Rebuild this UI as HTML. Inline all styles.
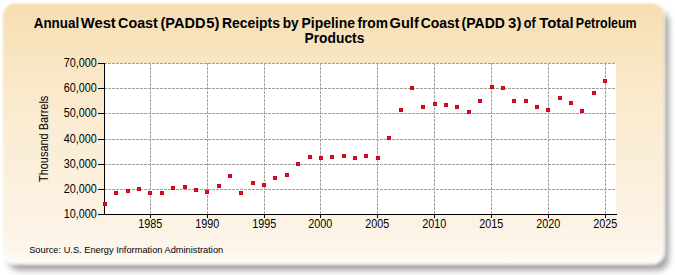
<!DOCTYPE html>
<html><head><meta charset="utf-8"><style>
html,body{margin:0;padding:0;background:#fff;width:675px;height:275px;overflow:hidden}
svg{position:absolute;left:0;top:0}
text{font-family:"Liberation Sans",sans-serif}
</style></head><body>
<svg width="675" height="275" viewBox="0 0 675 275">
<defs>
<linearGradient id="bg" x1="0" y1="0" x2="0" y2="1">
<stop offset='0' stop-color='#f6deb2'/><stop offset='0.45' stop-color='#fbecd2'/><stop offset='0.94' stop-color='#fdf5ea'/><stop offset='1' stop-color='#fffdf9'/>
</linearGradient>
<filter id="sh" x="-5%" y="-5%" width="115%" height="115%">
<feGaussianBlur in="SourceAlpha" stdDeviation="3.2 3.4"/>
<feOffset dx="5" dy="7"/>
<feComponentTransfer result="sd"><feFuncA type="linear" slope="0.36"/></feComponentTransfer>
<feGaussianBlur in="SourceGraphic" stdDeviation="0.9" result="bb"/>
<feMerge><feMergeNode in="sd"/><feMergeNode in="bb"/></feMerge>
</filter>
</defs>
<rect x="3" y="3.5" width="661" height="260" rx="12" ry="12" fill="url(#bg)" filter="url(#sh)"/>
<rect x="105" y="63" width="511" height="151" fill="#ffffff"/>
<g stroke="#a0a0a0" stroke-width="1" stroke-dasharray="3,1" shape-rendering="crispEdges">
<line x1="104" y1="63.5" x2="616" y2="63.5"/><line x1="104" y1="88.5" x2="616" y2="88.5"/><line x1="104" y1="113.5" x2="616" y2="113.5"/><line x1="104" y1="139.5" x2="616" y2="139.5"/><line x1="104" y1="164.5" x2="616" y2="164.5"/><line x1="104" y1="189.5" x2="616" y2="189.5"/>
</g>
<g stroke="#a0a0a0" stroke-width="1" stroke-dasharray="3,1" stroke-dashoffset="0" shape-rendering="crispEdges">
<line x1="150.5" y1="63" x2="150.5" y2="214"/><line x1="207.5" y1="63" x2="207.5" y2="214"/><line x1="264.5" y1="63" x2="264.5" y2="214"/><line x1="320.5" y1="63" x2="320.5" y2="214"/><line x1="377.5" y1="63" x2="377.5" y2="214"/><line x1="434.5" y1="63" x2="434.5" y2="214"/><line x1="491.5" y1="63" x2="491.5" y2="214"/><line x1="548.5" y1="63" x2="548.5" y2="214"/><line x1="605.5" y1="63" x2="605.5" y2="214"/>
</g>
<g stroke="#000" stroke-width="1" shape-rendering="crispEdges">
<line x1="104.5" y1="63" x2="104.5" y2="215"/>
<line x1="98" y1="214.5" x2="617" y2="214.5"/>
<line x1="98" y1="63.5" x2="104" y2="63.5"/><line x1="98" y1="88.5" x2="104" y2="88.5"/><line x1="98" y1="113.5" x2="104" y2="113.5"/><line x1="98" y1="139.5" x2="104" y2="139.5"/><line x1="98" y1="164.5" x2="104" y2="164.5"/><line x1="98" y1="189.5" x2="104" y2="189.5"/><line x1="98" y1="214.5" x2="104" y2="214.5"/><line x1="150.5" y1="215" x2="150.5" y2="218"/><line x1="207.5" y1="215" x2="207.5" y2="218"/><line x1="264.5" y1="215" x2="264.5" y2="218"/><line x1="320.5" y1="215" x2="320.5" y2="218"/><line x1="377.5" y1="215" x2="377.5" y2="218"/><line x1="434.5" y1="215" x2="434.5" y2="218"/><line x1="491.5" y1="215" x2="491.5" y2="218"/><line x1="548.5" y1="215" x2="548.5" y2="218"/><line x1="605.5" y1="215" x2="605.5" y2="218"/>
</g>
<g fill="#ee0a20" stroke="#c4061e" stroke-width="1">
<rect x="103.5" y="202.5" width="3" height="3"/><rect x="114.5" y="191.5" width="3" height="3"/><rect x="126.5" y="189.5" width="3" height="3"/><rect x="137.5" y="187.5" width="3" height="3"/><rect x="148.5" y="191.5" width="3" height="3"/><rect x="160.5" y="191.5" width="3" height="3"/><rect x="171.5" y="186.5" width="3" height="3"/><rect x="183.5" y="185.5" width="3" height="3"/><rect x="194.5" y="188.5" width="3" height="3"/><rect x="205.5" y="190.5" width="3" height="3"/><rect x="217.5" y="184.5" width="3" height="3"/><rect x="228.5" y="174.5" width="3" height="3"/><rect x="239.5" y="191.5" width="3" height="3"/><rect x="251.5" y="181.5" width="3" height="3"/><rect x="262.5" y="183.5" width="3" height="3"/><rect x="273.5" y="176.5" width="3" height="3"/><rect x="285.5" y="173.5" width="3" height="3"/><rect x="296.5" y="162.5" width="3" height="3"/><rect x="308.5" y="155.5" width="3" height="3"/><rect x="319.5" y="156.5" width="3" height="3"/><rect x="330.5" y="155.5" width="3" height="3"/><rect x="342.5" y="154.5" width="3" height="3"/><rect x="353.5" y="156.5" width="3" height="3"/><rect x="364.5" y="154.5" width="3" height="3"/><rect x="376.5" y="156.5" width="3" height="3"/><rect x="387.5" y="136.5" width="3" height="3"/><rect x="399.5" y="108.5" width="3" height="3"/><rect x="410.5" y="86.5" width="3" height="3"/><rect x="421.5" y="105.5" width="3" height="3"/><rect x="433.5" y="102.5" width="3" height="3"/><rect x="444.5" y="103.5" width="3" height="3"/><rect x="455.5" y="105.5" width="3" height="3"/><rect x="467.5" y="110.5" width="3" height="3"/><rect x="478.5" y="99.5" width="3" height="3"/><rect x="490.5" y="85.5" width="3" height="3"/><rect x="501.5" y="86.5" width="3" height="3"/><rect x="512.5" y="99.5" width="3" height="3"/><rect x="524.5" y="99.5" width="3" height="3"/><rect x="535.5" y="105.5" width="3" height="3"/><rect x="546.5" y="108.5" width="3" height="3"/><rect x="558.5" y="96.5" width="3" height="3"/><rect x="569.5" y="101.5" width="3" height="3"/><rect x="580.5" y="109.5" width="3" height="3"/><rect x="592.5" y="91.5" width="3" height="3"/><rect x="603.5" y="79.5" width="3" height="3"/>
</g>
<g font-size="13" fill="#000000">
<text x="96.8" y="67" text-anchor="end" textLength="33" lengthAdjust="spacingAndGlyphs">70,000</text><text x="96.8" y="92" text-anchor="end" textLength="33" lengthAdjust="spacingAndGlyphs">60,000</text><text x="96.8" y="117" text-anchor="end" textLength="33" lengthAdjust="spacingAndGlyphs">50,000</text><text x="96.8" y="143" text-anchor="end" textLength="33" lengthAdjust="spacingAndGlyphs">40,000</text><text x="96.8" y="168" text-anchor="end" textLength="33" lengthAdjust="spacingAndGlyphs">30,000</text><text x="96.8" y="193" text-anchor="end" textLength="33" lengthAdjust="spacingAndGlyphs">20,000</text><text x="96.8" y="218" text-anchor="end" textLength="33" lengthAdjust="spacingAndGlyphs">10,000</text>
</g>
<g font-size="13" fill="#000000">
<text x="150.2" y="228" text-anchor="middle" textLength="24" lengthAdjust="spacingAndGlyphs">1985</text><text x="207.2" y="228" text-anchor="middle" textLength="24" lengthAdjust="spacingAndGlyphs">1990</text><text x="264.2" y="228" text-anchor="middle" textLength="24" lengthAdjust="spacingAndGlyphs">1995</text><text x="320.2" y="228" text-anchor="middle" textLength="24" lengthAdjust="spacingAndGlyphs">2000</text><text x="377.2" y="228" text-anchor="middle" textLength="24" lengthAdjust="spacingAndGlyphs">2005</text><text x="434.2" y="228" text-anchor="middle" textLength="24" lengthAdjust="spacingAndGlyphs">2010</text><text x="491.2" y="228" text-anchor="middle" textLength="24" lengthAdjust="spacingAndGlyphs">2015</text><text x="548.2" y="228" text-anchor="middle" textLength="24" lengthAdjust="spacingAndGlyphs">2020</text><text x="605.2" y="228" text-anchor="middle" textLength="24" lengthAdjust="spacingAndGlyphs">2025</text>
</g>
<text x="33.73" y="28" font-size="14.5" font-weight="bold" fill="#000000" textLength="45.43" lengthAdjust="spacingAndGlyphs">Annual</text>
<text x="80.80" y="28" font-size="14.5" font-weight="bold" fill="#000000" textLength="34.98" lengthAdjust="spacingAndGlyphs">West</text>
<text x="118.11" y="28" font-size="14.5" font-weight="bold" fill="#000000" textLength="39.67" lengthAdjust="spacingAndGlyphs">Coast</text>
<text x="160.50" y="28" font-size="14.5" font-weight="bold" fill="#000000" textLength="44.94" lengthAdjust="spacingAndGlyphs">(PADD</text>
<text x="206.29" y="28" font-size="14.5" font-weight="bold" fill="#000000" textLength="13.22" lengthAdjust="spacingAndGlyphs">5)</text>
<text x="221.94" y="28" font-size="14.5" font-weight="bold" fill="#000000" textLength="58.08" lengthAdjust="spacingAndGlyphs">Receipts</text>
<text x="282.65" y="28" font-size="14.5" font-weight="bold" fill="#000000" textLength="16.07" lengthAdjust="spacingAndGlyphs">by</text>
<text x="301.44" y="28" font-size="14.5" font-weight="bold" fill="#000000" textLength="53.54" lengthAdjust="spacingAndGlyphs">Pipeline</text>
<text x="357.41" y="28" font-size="14.5" font-weight="bold" fill="#000000" textLength="30.56" lengthAdjust="spacingAndGlyphs">from</text>
<text x="389.60" y="28" font-size="14.5" font-weight="bold" fill="#000000" textLength="29.20" lengthAdjust="spacingAndGlyphs">Gulf</text>
<text x="420.72" y="28" font-size="14.5" font-weight="bold" fill="#000000" textLength="38.65" lengthAdjust="spacingAndGlyphs">Coast</text>
<text x="461.62" y="28" font-size="14.5" font-weight="bold" fill="#000000" textLength="43.29" lengthAdjust="spacingAndGlyphs">(PADD</text>
<text x="508.09" y="28" font-size="14.5" font-weight="bold" fill="#000000" textLength="13.33" lengthAdjust="spacingAndGlyphs">3)</text>
<text x="523.78" y="28" font-size="14.5" font-weight="bold" fill="#000000" textLength="11.91" lengthAdjust="spacingAndGlyphs">of</text>
<text x="539.19" y="28" font-size="14.5" font-weight="bold" fill="#000000" textLength="34.50" lengthAdjust="spacingAndGlyphs">Total</text>
<text x="575.84" y="28" font-size="14.5" font-weight="bold" fill="#000000" textLength="60.84" lengthAdjust="spacingAndGlyphs">Petroleum</text>
<text x="304.55" y="43" font-size="14.5" font-weight="bold" fill="#000000" textLength="59.76" lengthAdjust="spacingAndGlyphs">Products</text>
<text transform="translate(47.5,182) rotate(-90)" font-size="12.5" fill="#000000" textLength="86.3" lengthAdjust="spacingAndGlyphs">Thousand Barrels</text>
<text x="29.2" y="253" font-size="9.3" fill="#000000" textLength="194" lengthAdjust="spacingAndGlyphs">Source: U.S. Energy Information Administration</text>
</svg>
</body></html>
